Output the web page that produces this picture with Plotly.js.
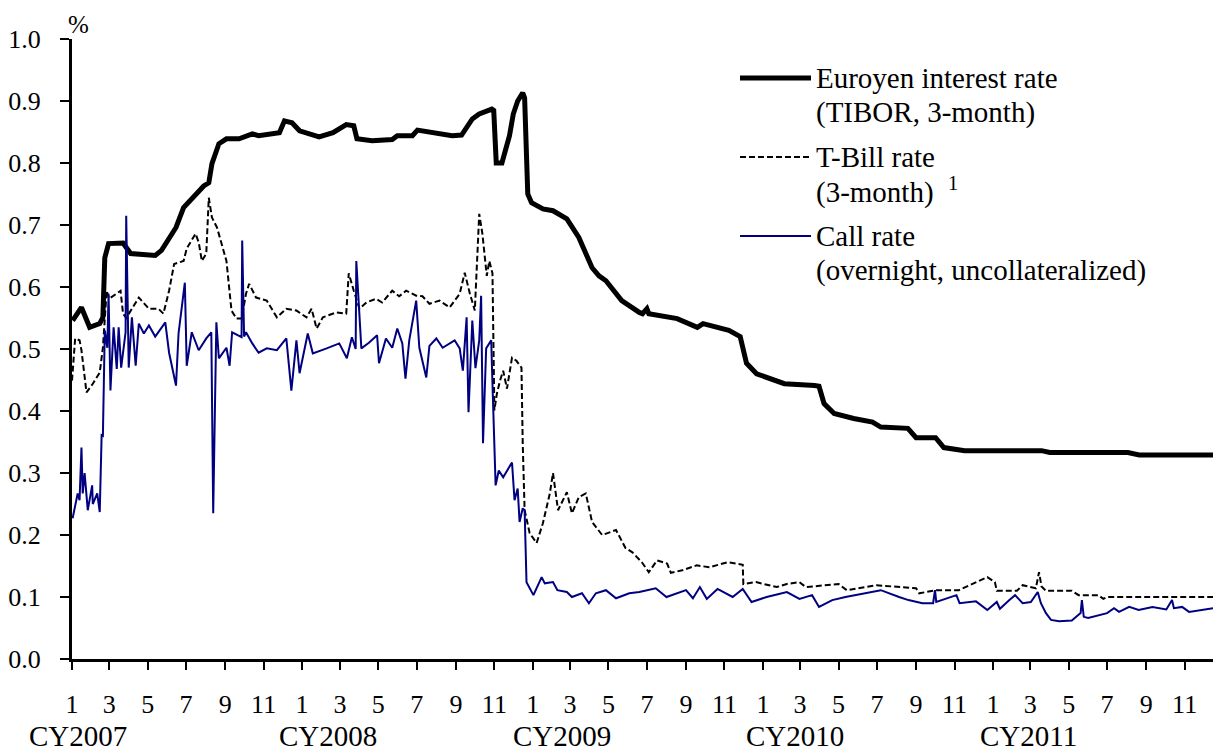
<!DOCTYPE html>
<html>
<head>
<meta charset="utf-8">
<script src="https://cdn.plot.ly/plotly-3.0.1.min.js"></script>
<style>
html,body{margin:0;padding:0;background:#fff;}
#chart{width:1214px;height:749px;}
</style>
</head>
<body>
<div id="chart"></div>
<script>
// ---- Data ----
const tiborDates = ['2007-01-02','2007-01-16','2007-01-29','2007-02-14','2007-02-19','2007-02-22','2007-02-28','2007-03-23','2007-04-04','2007-05-13','2007-05-23','2007-06-15','2007-06-27','2007-07-16','2007-07-29','2007-08-06','2007-08-11','2007-08-22','2007-09-03','2007-09-23','2007-10-14','2007-10-24','2007-11-26','2007-12-04','2007-12-16','2007-12-28','2008-01-28','2008-02-19','2008-03-11','2008-03-23','2008-03-28','2008-04-21','2008-05-23','2008-05-31','2008-06-24','2008-07-02','2008-07-25','2008-08-26','2008-09-10','2008-09-19','2008-09-27','2008-10-08','2008-10-28','2008-10-31','2008-11-04','2008-11-13','2008-11-20','2008-11-25','2008-12-01','2008-12-08','2008-12-16','2008-12-19','2008-12-24','2008-12-30','2009-01-17','2009-02-02','2009-02-24','2009-03-15','2009-04-05','2009-04-16','2009-04-27','2009-05-13','2009-05-22','2009-06-19','2009-06-24','2009-07-01','2009-07-04','2009-08-18','2009-09-19','2009-09-28','2009-11-08','2009-11-26','2009-12-06','2009-12-22','2010-01-10','2010-02-04','2010-03-24','2010-03-31','2010-04-08','2010-04-24','2010-05-25','2010-06-24','2010-07-07','2010-08-19','2010-09-01','2010-10-02','2010-10-15','2010-11-17','2011-03-19','2011-04-01','2011-08-03','2011-08-21','2011-12-16'];
const tiborValues = [0.546,0.567,0.535,0.541,0.551,0.647,0.670,0.671,0.654,0.651,0.659,0.696,0.728,0.750,0.763,0.768,0.799,0.831,0.839,0.839,0.847,0.844,0.849,0.868,0.865,0.852,0.842,0.849,0.862,0.860,0.839,0.836,0.838,0.844,0.844,0.853,0.849,0.844,0.845,0.860,0.871,0.879,0.887,0.885,0.800,0.800,0.824,0.844,0.879,0.900,0.913,0.905,0.750,0.736,0.726,0.723,0.710,0.680,0.631,0.618,0.610,0.589,0.578,0.559,0.557,0.565,0.557,0.549,0.535,0.541,0.530,0.520,0.477,0.460,0.454,0.444,0.441,0.440,0.412,0.396,0.388,0.382,0.374,0.372,0.357,0.357,0.341,0.336,0.336,0.333,0.333,0.329,0.329];

const tbillDates = ['2007-01-01','2007-01-06','2007-01-13','2007-01-16','2007-01-24','2007-02-03','2007-02-14','2007-02-19','2007-02-25','2007-03-01','2007-03-19','2007-03-23','2007-03-28','2007-04-17','2007-05-03','2007-05-18','2007-05-26','2007-06-04','2007-06-12','2007-06-27','2007-07-02','2007-07-16','2007-07-21','2007-07-26','2007-08-02','2007-08-06','2007-08-11','2007-08-19','2007-09-03','2007-09-11','2007-09-19','2007-09-27','2007-10-04','2007-10-09','2007-10-20','2007-11-06','2007-11-22','2007-12-07','2007-12-23','2008-01-08','2008-01-16','2008-01-24','2008-02-03','2008-02-24','2008-03-11','2008-03-15','2008-03-23','2008-04-01','2008-04-12','2008-04-27','2008-05-07','2008-05-23','2008-06-03','2008-06-14','2008-06-30','2008-07-10','2008-07-21','2008-08-06','2008-08-22','2008-09-07','2008-09-15','2008-09-23','2008-10-01','2008-10-04','2008-10-08','2008-10-13','2008-10-20','2008-10-24','2008-10-29','2008-11-01','2008-11-05','2008-11-10','2008-11-15','2008-11-21','2008-11-29','2008-12-06','2008-12-14','2008-12-16','2008-12-19','2008-12-27','2009-01-07','2009-01-17','2009-01-28','2009-02-02','2009-02-10','2009-02-24','2009-03-04','2009-03-15','2009-03-26','2009-04-05','2009-04-21','2009-05-13','2009-05-28','2009-06-08','2009-06-23','2009-07-04','2009-07-17','2009-08-02','2009-08-08','2009-08-26','2009-09-18','2009-10-08','2009-11-06','2009-11-20','2009-11-30','2009-12-01','2009-12-21','2010-01-23','2010-02-08','2010-02-28','2010-03-10','2010-05-01','2010-05-14','2010-06-30','2010-09-01','2010-09-06','2010-10-03','2010-11-08','2010-11-25','2010-12-10','2010-12-23','2011-01-04','2011-01-07','2011-02-08','2011-02-17','2011-03-10','2011-03-15','2011-03-19','2011-03-26','2011-05-06','2011-05-17','2011-06-17','2011-06-25','2011-07-01','2011-12-16'];
const tbillValues = [0.449,0.517,0.514,0.498,0.430,0.444,0.462,0.502,0.594,0.581,0.594,0.557,0.550,0.583,0.565,0.565,0.557,0.594,0.637,0.642,0.662,0.686,0.672,0.642,0.654,0.744,0.712,0.696,0.642,0.562,0.549,0.549,0.589,0.605,0.583,0.578,0.551,0.565,0.562,0.551,0.565,0.533,0.551,0.559,0.557,0.622,0.594,0.565,0.575,0.581,0.575,0.594,0.585,0.594,0.586,0.585,0.573,0.578,0.567,0.589,0.623,0.590,0.562,0.622,0.718,0.686,0.618,0.642,0.622,0.401,0.428,0.449,0.465,0.436,0.486,0.481,0.470,0.348,0.240,0.203,0.187,0.219,0.267,0.300,0.240,0.269,0.235,0.261,0.267,0.221,0.200,0.208,0.179,0.172,0.156,0.140,0.159,0.154,0.139,0.143,0.151,0.148,0.156,0.154,0.152,0.121,0.124,0.116,0.121,0.124,0.116,0.121,0.111,0.119,0.114,0.106,0.111,0.111,0.119,0.127,0.132,0.124,0.110,0.110,0.119,0.114,0.140,0.117,0.110,0.110,0.103,0.103,0.097,0.100,0.100];

const callDates = ['2007-01-02','2007-01-06','2007-01-10','2007-01-13','2007-01-16','2007-01-18','2007-01-21','2007-01-26','2007-02-02','2007-02-03','2007-02-10','2007-02-14','2007-02-17','2007-02-19','2007-02-22','2007-02-26','2007-02-28','2007-03-03','2007-03-08','2007-03-13','2007-03-16','2007-03-20','2007-03-27','2007-03-28','2007-04-01','2007-04-06','2007-04-12','2007-04-17','2007-04-25','2007-05-03','2007-05-13','2007-05-29','2007-06-04','2007-06-15','2007-06-19','2007-06-29','2007-07-02','2007-07-10','2007-07-21','2007-08-02','2007-08-10','2007-08-13','2007-08-18','2007-08-22','2007-09-03','2007-09-08','2007-09-12','2007-09-27','2007-09-28','2007-10-01','2007-10-04','2007-10-14','2007-10-24','2007-11-06','2007-11-22','2007-12-07','2007-12-15','2007-12-23','2007-12-28','2008-01-10','2008-01-18','2008-02-09','2008-02-29','2008-03-12','2008-03-20','2008-03-26','2008-03-27','2008-04-04','2008-04-16','2008-04-29','2008-05-02','2008-05-13','2008-05-23','2008-05-31','2008-06-08','2008-06-13','2008-06-19','2008-06-30','2008-07-05','2008-07-16','2008-07-21','2008-08-01','2008-08-11','2008-08-30','2008-09-07','2008-09-12','2008-09-18','2008-09-21','2008-09-27','2008-10-02','2008-10-08','2008-10-11','2008-10-14','2008-10-19','2008-10-27','2008-10-29','2008-11-03','2008-11-08','2008-11-15','2008-11-23','2008-11-29','2008-12-03','2008-12-08','2008-12-11','2008-12-16','2008-12-19','2008-12-22','2009-01-02','2009-01-15','2009-01-20','2009-02-02','2009-02-09','2009-02-24','2009-03-04','2009-03-20','2009-03-31','2009-04-11','2009-04-27','2009-05-13','2009-06-03','2009-06-19','2009-07-15','2009-08-01','2009-09-01','2009-09-12','2009-09-23','2009-10-04','2009-10-21','2009-11-14','2009-11-30','2009-12-14','2010-01-07','2010-02-08','2010-02-28','2010-03-20','2010-03-31','2010-04-21','2010-05-12','2010-06-13','2010-07-07','2010-08-05','2010-08-20','2010-09-11','2010-09-28','2010-10-01','2010-10-03','2010-11-04','2010-11-09','2010-12-05','2010-12-23','2011-01-07','2011-01-12','2011-01-27','2011-02-05','2011-02-17','2011-03-02','2011-03-13','2011-03-18','2011-03-26','2011-04-03','2011-04-16','2011-05-06','2011-05-20','2011-05-22','2011-05-25','2011-06-01','2011-07-01','2011-07-12','2011-07-20','2011-08-05','2011-08-20','2011-09-11','2011-10-03','2011-10-12','2011-10-15','2011-10-28','2011-11-08','2011-11-24','2011-12-16'];
const callValues = [0.227,0.245,0.267,0.256,0.341,0.267,0.300,0.240,0.280,0.250,0.267,0.237,0.361,0.360,0.530,0.502,0.589,0.433,0.535,0.468,0.535,0.470,0.527,0.715,0.470,0.551,0.473,0.541,0.525,0.538,0.520,0.543,0.494,0.441,0.525,0.607,0.473,0.527,0.498,0.517,0.527,0.235,0.543,0.485,0.502,0.473,0.527,0.519,0.675,0.520,0.527,0.509,0.494,0.501,0.498,0.517,0.433,0.514,0.461,0.525,0.493,0.501,0.509,0.485,0.519,0.500,0.642,0.501,0.510,0.522,0.477,0.517,0.502,0.533,0.509,0.452,0.514,0.578,0.502,0.454,0.505,0.517,0.502,0.514,0.501,0.465,0.551,0.398,0.546,0.469,0.514,0.586,0.348,0.501,0.514,0.444,0.280,0.304,0.293,0.307,0.317,0.256,0.275,0.221,0.243,0.240,0.124,0.103,0.132,0.122,0.124,0.111,0.108,0.100,0.106,0.090,0.106,0.111,0.098,0.106,0.108,0.114,0.100,0.111,0.098,0.116,0.097,0.113,0.100,0.113,0.092,0.100,0.108,0.097,0.103,0.084,0.095,0.100,0.106,0.111,0.100,0.095,0.090,0.090,0.111,0.092,0.103,0.090,0.093,0.079,0.092,0.081,0.095,0.103,0.090,0.092,0.108,0.090,0.074,0.063,0.061,0.062,0.074,0.095,0.068,0.066,0.074,0.082,0.076,0.084,0.079,0.084,0.080,0.095,0.082,0.084,0.076,0.079,0.082];

const seriesNames = ['Euroyen interest rate', 'T-Bill rate', 'Call rate'];
const seriesSubNames = ['(TIBOR, 3-month)', '(3-month)  <sup>1</sup>', '(overnight, uncollateralized)'];
const yearLabels = ['CY2007','CY2008','CY2009','CY2010','CY2011'];

// ---- Styling ----
const FONT = 'Liberation Serif';
const FS = 26;      // tick labels
const FS_TEXT = 29; // legend and year labels
const NAVY = '#000080';

const traces = [
  {x: tiborDates, y: tiborValues, type: 'scatter', mode: 'lines', name: seriesNames[0],
   line: {color: '#000000', width: 5}, showlegend: false, hoverinfo: 'skip'},
  {x: tbillDates, y: tbillValues, type: 'scatter', mode: 'lines', name: seriesNames[1],
   line: {color: '#000000', width: 2, dash: '6px,3px'}, showlegend: false, hoverinfo: 'skip'},
  {x: callDates, y: callValues, type: 'scatter', mode: 'lines', name: seriesNames[2],
   line: {color: NAVY, width: 2}, showlegend: false, hoverinfo: 'skip'}
];

// plot area: x 72..1213, y 39..659
const W = 1214, H = 749, L = 72, R = 1, T = 39, B = 90;
const pw = W - L - R, ph = H - T - B;
const px = v => (v - L) / pw;
const py = v => (H - B - v) / ph;

const legendStyles = [
  {color: '#000000', width: 5, dash: 'solid'},
  {color: '#000000', width: 2, dash: '6px,3px'},
  {color: NAVY, width: 2, dash: 'solid'}
];
const legendRowY = [78, 157, 236];
const legendSubY = [112, 191, 270];

const shapes = legendStyles.map((s, i) => ({
  type: 'line', xref: 'paper', yref: 'paper',
  x0: px(740), x1: px(811), y0: py(legendRowY[i]), y1: py(legendRowY[i]),
  line: {color: s.color, width: s.width, dash: s.dash}
}));

const annotations = [];
seriesNames.forEach((n, i) => {
  annotations.push({xref: 'paper', yref: 'paper', x: px(814), y: py(legendRowY[i]), xanchor: 'left', yanchor: 'middle',
    text: n, showarrow: false, font: {family: FONT, size: FS_TEXT, color: '#000'}});
  annotations.push({xref: 'paper', yref: 'paper', x: px(814), y: py(legendSubY[i]), xanchor: 'left', yanchor: 'middle',
    text: seriesSubNames[i], showarrow: false, font: {family: FONT, size: FS_TEXT, color: '#000'}});
});
const yearCenters = [78, 328, 562, 795, 1028];
yearLabels.forEach((t, i) => {
  annotations.push({xref: 'paper', yref: 'paper', x: px(yearCenters[i]), y: py(736), xanchor: 'center', yanchor: 'middle',
    text: t, showarrow: false, font: {family: FONT, size: FS_TEXT, color: '#000'}});
});
annotations.push({xref: 'paper', yref: 'paper', x: px(66), y: py(24), xanchor: 'left', yanchor: 'middle',
  text: '%', showarrow: false, font: {family: FONT, size: 25, color: '#000'}});

const layout = {
  width: W, height: H,
  margin: {l: L, r: R, t: T, b: B, pad: 0},
  paper_bgcolor: '#ffffff', plot_bgcolor: '#ffffff',
  showlegend: false,
  font: {family: FONT, size: FS, color: '#000'},
  xaxis: {
    type: 'date', range: ['2007-01-01', '2011-12-16'],
    tick0: '2007-01-01', dtick: 'M2', tickformat: '%-m',
    ticks: 'outside', ticklen: 8, tickwidth: 2, tickcolor: '#000',
    showline: true, linewidth: 3, linecolor: '#000',
    showgrid: false, zeroline: false,
    tickfont: {family: FONT, size: FS, color: '#000'},
    ticklabelstandoff: 12
  },
  yaxis: {
    range: [0, 1], tick0: 0, dtick: 0.1, tickformat: '.1f',
    ticks: 'outside', ticklen: 9, tickwidth: 2, tickcolor: '#000',
    showline: true, linewidth: 3, linecolor: '#000',
    showgrid: false, zeroline: false,
    tickfont: {family: FONT, size: FS, color: '#000'},
    ticklabelstandoff: 14
  },
  shapes: shapes,
  annotations: annotations
};

Plotly.newPlot('chart', traces, layout, {displayModeBar: false, staticPlot: true});
</script>
</body>
</html>
